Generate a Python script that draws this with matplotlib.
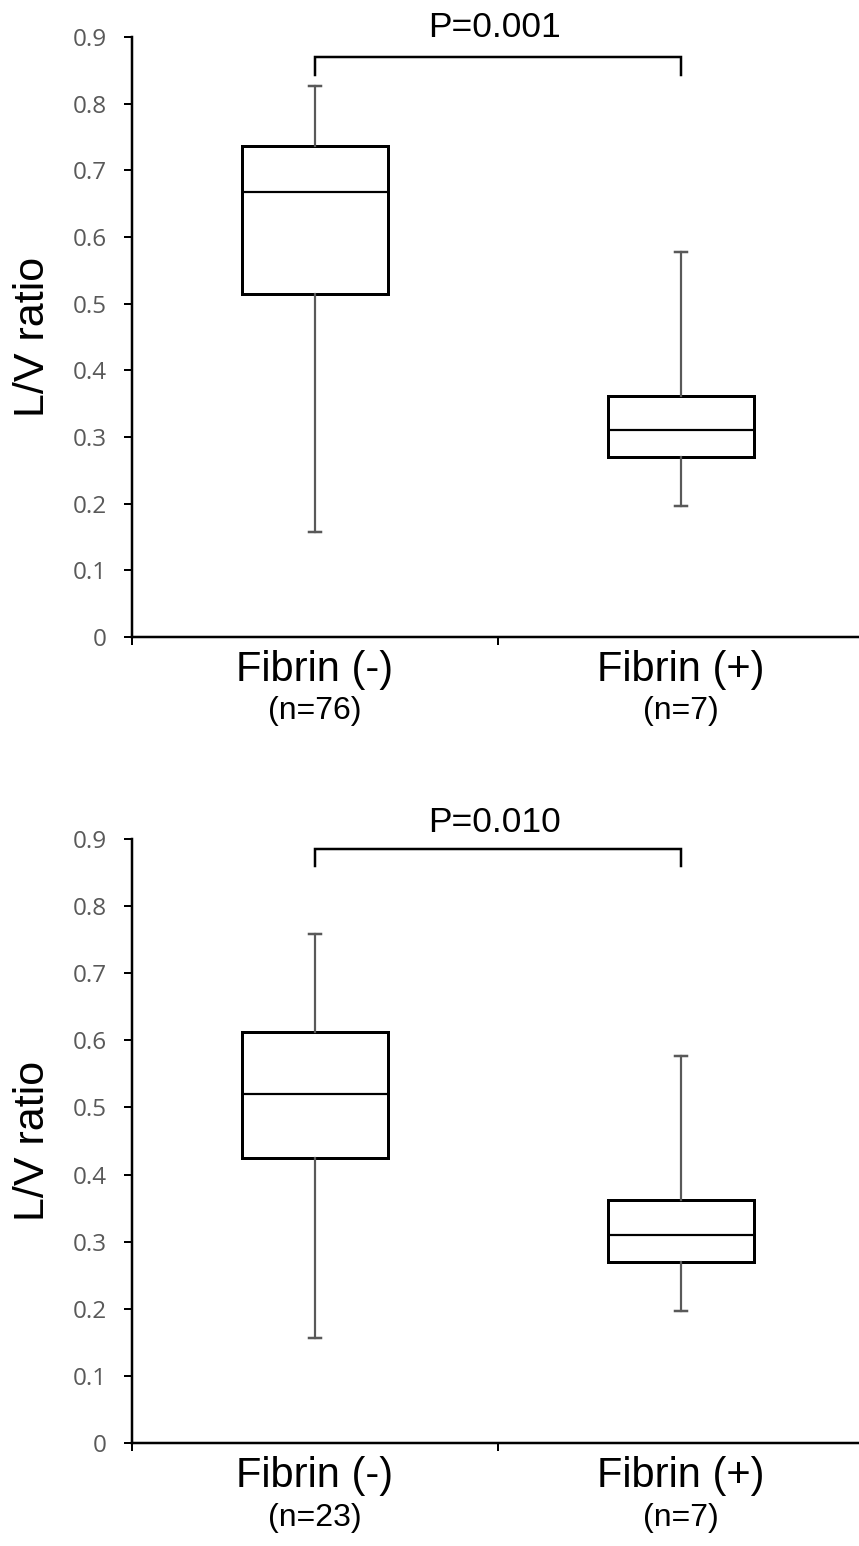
import numpy as np
import matplotlib
matplotlib.use('Agg')
import matplotlib.pyplot as plt
from matplotlib.transforms import blended_transform_factory

# box statistics (whisker low, Q1, median, Q3, whisker high)
groups = ['Fibrin (-)', 'Fibrin (+)']
top_n = ['(n=76)', '(n=7)']
top_whislo = [0.158, 0.197]
top_q1 = [0.514, 0.270]
top_med = [0.667, 0.311]
top_q3 = [0.736, 0.362]
top_whishi = [0.827, 0.577]
top_p = 'P=0.001'

bot_n = ['(n=23)', '(n=7)']
bot_whislo = [0.157, 0.196]
bot_q1 = [0.424, 0.269]
bot_med = [0.520, 0.310]
bot_q3 = [0.613, 0.362]
bot_whishi = [0.758, 0.577]
bot_p = 'P=0.010'

yticks = [0, 0.1, 0.2, 0.3, 0.4, 0.5, 0.6, 0.7, 0.8, 0.9]

GREY = '#595959'
PX = 72 / 100  # points per pixel at dpi 100


def draw_panel(ax, n_labels, whislo, q1, med, q3, whishi, p_text, bracket_y, bracket_drop, p_y):
    stats = []
    for i in range(len(groups)):
        stats.append(dict(whislo=whislo[i], q1=q1[i], med=med[i], q3=q3[i], whishi=whishi[i]))
    ax.bxp(stats, positions=[1, 2], widths=0.4, capwidths=0.035, showfliers=False,
           patch_artist=True,
           boxprops=dict(facecolor='white', edgecolor='black', linewidth=3 * PX),
           medianprops=dict(color='black', linewidth=2.2 * PX),
           whiskerprops=dict(color=GREY, linewidth=2.2 * PX),
           capprops=dict(color=GREY, linewidth=2.5 * PX))

    ax.set_xlim(0.5, 2.5)
    ax.set_ylim(0, 0.9)
    ax.set_yticks(yticks)
    ax.set_yticklabels(['0' if t == 0 else f'{t:.1f}' for t in yticks])
    for s in ['top', 'right']:
        ax.spines[s].set_visible(False)
    for s in ['left', 'bottom']:
        ax.spines[s].set_linewidth(2.5 * PX)
    ax.tick_params(axis='y', direction='out', length=8 * PX, width=2 * PX,
                   pad=12.5, labelsize=17.5, labelcolor=GREY, labelfontfamily='Open Sans')
    ax.set_xticks([0.5, 1.5, 2.5])
    ax.set_xticklabels([])
    ax.tick_params(axis='x', which='major', direction='out', length=8 * PX, width=2 * PX)
    ax.set_xticks([1, 2], minor=True)
    ax.set_xticklabels(groups, minor=True)
    ax.tick_params(axis='x', which='minor', length=0, pad=9, labelsize=30,
                   labelfontfamily='Liberation Sans')

    trans = blended_transform_factory(ax.transData, ax.transAxes)
    for i, lab in enumerate(n_labels):
        ax.text(i + 1, -0.124, lab, transform=trans, ha='center', va='center',
                fontsize=23, family='Liberation Sans', clip_on=False)

    ax.text(-0.135, 0.5, 'L/V ratio', transform=ax.transAxes, rotation=90,
            ha='center', va='center', fontsize=31, family='Liberation Sans')

    ax.plot([1, 1, 2, 2], [bracket_drop, bracket_y, bracket_y, bracket_drop],
            color='black', lw=2.5 * PX, clip_on=False, solid_joinstyle='miter')
    ax.text(1.49, p_y, p_text, ha='center', va='baseline', fontsize=25.5,
            family='Liberation Sans', clip_on=False)


fig = plt.figure(figsize=(8.59, 15.46), dpi=100)
ax1 = fig.add_axes([132 / 859, 909 / 1546, 732 / 859, 600 / 1546])
ax2 = fig.add_axes([132 / 859, 103 / 1546, 732 / 859, 604 / 1546])

draw_panel(ax1, top_n, top_whislo, top_q1, top_med, top_q3, top_whishi, top_p,
           0.870, 0.843, 0.900)
draw_panel(ax2, bot_n, bot_whislo, bot_q1, bot_med, bot_q3, bot_whishi, bot_p,
           0.885, 0.860, 0.911)

fig.savefig('out.png', dpi=100)
